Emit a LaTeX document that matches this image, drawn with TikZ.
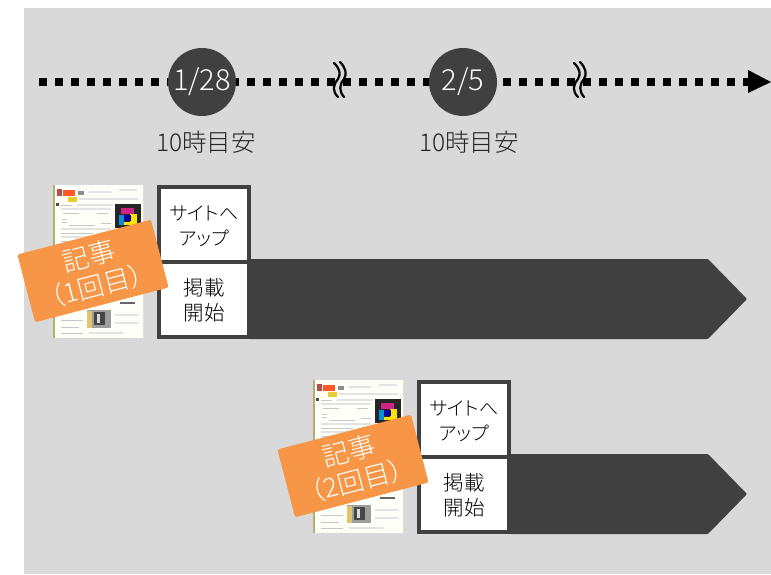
\documentclass[tikz,border=0pt]{standalone}
\usepackage{fontspec}
\setmainfont{Noto Sans CJK JP Light}
\newfontfamily\kanafont[RawFeature=+palt]{Noto Sans CJK JP Light}
\usetikzlibrary{arrows.meta}
\definecolor{panel}{HTML}{D9D9D9}
\definecolor{dark}{HTML}{404040}
\definecolor{tag}{HTML}{F79646}
\tikzset{
  timeline/.style={line width=8pt,dash pattern=on 8pt off 8pt},
  datecircle/.style={circle,fill=dark,minimum size=68pt,inner sep=0pt,text=white,font=\fontsize{29}{32}\selectfont},
  timenote/.style={font=\fontsize{24.5}{28}\selectfont,text=black!85},
  stepbox/.style={draw=dark,line width=4pt,fill=white,minimum width=90pt,minimum height=75pt,align=center,inner sep=0pt,font=\kanafont\fontsize{20.5}{25}\selectfont,text=black},
  band/.style={fill=dark,rounded corners=1pt},
  tagbox/.style={fill=tag,rounded corners=1.5pt,minimum width=138pt,minimum height=70pt,rotate=14.6,inner sep=0pt,align=center,text=white,font=\fontsize{26.5}{31}\selectfont},
  txt/.style={draw=black!22,line width=1pt},
  txtl/.style={draw=black!11,line width=1.2pt}
}
\newcommand{\twolines}[2]{\raisebox{-3.5pt}[\height][\depth]{\begin{tabular}{@{}c@{}}#1\\#2\end{tabular}}}
\newcommand{\kanalines}[2]{\raisebox{-3.5pt}[\height][\depth]{\fontsize{19}{25}\selectfont\begin{tabular}{@{}c@{}}#1\\#2\end{tabular}}}
\newcommand{\pagethumb}[2]{%
  \begin{scope}[shift={(#1,#2)}]
    \fill[white!98!yellow] (0,0) rectangle (91,153);
    \fill[yellow!55!black!75] (0,0) rectangle (1.5,153);
    \fill[brown!30] (89.5,0) rectangle (91,153);
    \fill[red!60!black!70] (4,4) rectangle (9,11);
    \fill[red!55!orange!85] (10,5) rectangle (22,11);
    \fill[black!45] (25,6) rectangle (31,10);
    \draw[txtl] (36,7) -- (58,7) (66,5) -- (84,5) (26,14) -- (85,14);
    \fill[yellow!60!brown] (15,12) rectangle (24,17);
    \fill[black!70] (3,18) rectangle (6,21);
    \draw[txt] (8,20) -- (19,20);
    \draw[txtl] (24,20) -- (60,20) (8,24) -- (58,24);
    \draw[txt] (10,28) -- (26,28);
    \draw[txt] (44,28) -- (55,28);
    \fill[black!85] (62,19) rectangle (88,43);
    \fill[magenta!85!black] (68,23) rectangle (81,29);
    \fill[yellow!85!orange] (77,29) rectangle (84,39);
    \fill[yellow!85!orange] (69,37) rectangle (84,40);
    \fill[cyan!75!blue] (66,30) rectangle (71,40);
    \fill[blue!60!black] (71,30) rectangle (78,36);
    \draw[txt] (9,34) -- (14,34) (9,37) -- (14,37);
    \draw[txt] (16,40) -- (42,40) (48,38) -- (58,38);
    \draw[txtl] (8,44) -- (58,44) (8,52) -- (56,52) (8,60) -- (58,60);
    \draw[txt] (8,48) -- (40,48) (8,56) -- (30,56) (8,64) -- (60,64);
    \draw[txtl] (60,50) -- (86,50) (60,58) -- (86,58) (60,100) -- (86,100) (60,108) -- (86,108);
    \fill[black!38] (34,125) rectangle (58,143);
    \fill[black!72] (41,127) rectangle (52,140);
    \fill[yellow!35!brown!75] (34,126) rectangle (39,143);
    \fill[black!15] (44,129) rectangle (47,138);
    \draw[black!60,line width=1.2pt] (67,118) -- (82,118);
    \draw[txt] (8,135) -- (30,135) (8,142) -- (26,142) (8,148) -- (30,148);
    \draw[txtl] (62,130) -- (86,130) (62,138) -- (86,138) (36,148) -- (70,148);
  \end{scope}}
\newcommand{\wavemark}[2]{%
  \begin{scope}[shift={(#1,#2)}]
    \fill[panel] (-6,-20) .. controls (0,-14) and (1,-9) .. (-2,-4) .. controls (-7,2) and (-8,8) .. (-2,14) -- (4,14)
      .. controls (-1,8) and (-1,2) .. (4,-4) .. controls (7,-9) and (6,-15) .. (0,-21) -- cycle;
    \draw[black,line width=2.2pt,line cap=round] (-6,-20) .. controls (0,-14) and (1,-9) .. (-2,-4) .. controls (-7,2) and (-8,8) .. (-2,14);
    \draw[black,line width=2.2pt,line cap=round] (0,-21) .. controls (6,-15) and (7,-9) .. (4,-4) .. controls (-1,2) and (-1,8) .. (4,14);
  \end{scope}}
\begin{document}
\begin{tikzpicture}[x=1pt,y=-1pt]
\useasboundingbox (0,0) rectangle (771,574);
\fill[panel] (24,8) rectangle (771,574);
% timeline
\coordinate (tstart) at (39,82);
\coordinate (tend) at (750,82);
\coordinate (ttip) at (771,82);
\draw[timeline] (tstart) -- (tend);
\fill[black] (748,70) -- (ttip) -- (748,93) -- cycle;
\wavemark{340}{83}
\wavemark{580}{83}
\node[datecircle] (d1) at (202,82) {1/28};
\node[datecircle] (d2) at (463,82) {2/5};
\node[timenote] (n1) at (206,142) {10時目安};
\node[timenote] (n2) at (469,142) {10時目安};
% first row
\pagethumb{53}{185}
\fill[band] (249,259) -- (708,259) -- (747,299) -- (708,339) -- (249,339) -- cycle;
\node[stepbox] (up1) at (204,224.5) {\kanalines{サイトへ}{アップ}};
\node[stepbox] (st1) at (204,299.5) {\twolines{掲載}{開始}};
\node[tagbox] (tag1) at (93,271) {記事\\（1回目）};
% second row
\pagethumb{313}{380}
\fill[band] (509,454) -- (708,454) -- (747,494) -- (708,534) -- (509,534) -- cycle;
\node[stepbox] (up2) at (464,419.5) {\kanalines{サイトへ}{アップ}};
\node[stepbox] (st2) at (464,494.5) {\twolines{掲載}{開始}};
\node[tagbox] (tag2) at (353,466) {記事\\（2回目）};
\end{tikzpicture}
\end{document}
